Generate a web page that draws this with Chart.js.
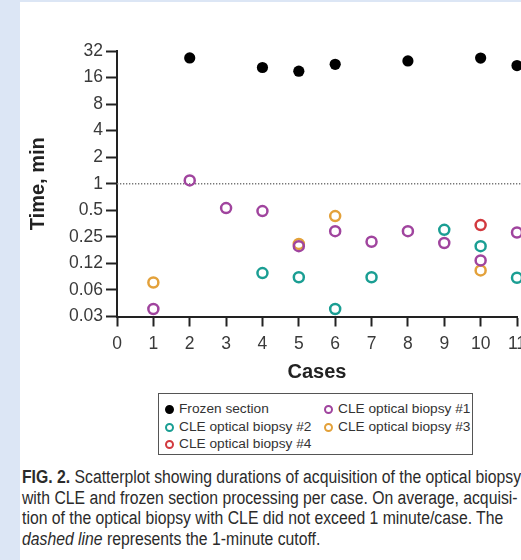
<!DOCTYPE html>
<html lang="en">

<head>
    <meta charset="UTF-8">
    <title>FIG. 2 Scatterplot</title>
    <script src="https://cdn.jsdelivr.net/npm/chart.js"></script>
    <style>
        html, body {
            margin: 0;
            padding: 0;
            width: 521px;
            height: 560px;
            overflow: hidden;
            background: #dce6f5;
        }

        #panel {
            position: absolute;
            left: 20px;
            top: 2px;
            width: 520px;
            height: 570px;
            background: #ffffff;
        }

        #chart-container {
            position: absolute;
            left: 0;
            top: 0;
            width: 540px;
            height: 390px;
        }

        #legend {
            position: absolute;
            left: 158px;
            top: 393px;
            width: 313px;
            height: 60px;
            border: 1.5px solid #555;
            box-sizing: content-box;
            font-family: "Liberation Sans", Arial, sans-serif;
            font-size: 13.7px;
            color: #333;
        }

        #legend .item {
            position: absolute;
            white-space: nowrap;
            line-height: 16px;
        }

        #legend .mark {
            display: inline-block;
            width: 5px;
            height: 5px;
            border-radius: 50%;
            border: 2px solid #000;
            margin-right: 5px;
            vertical-align: -1px;
        }

        #caption {
            position: absolute;
            left: 22px;
            top: 467px;
            white-space: nowrap;
            font-family: "Liberation Sans", Arial, sans-serif;
            font-size: 18px;
            line-height: 20.5px;
            color: #2b2b2b;
            transform: scaleX(0.875);
            transform-origin: left top;
        }
    </style>
</head>

<body>
    <div id="panel"></div>
    <div id="chart-container">
        <canvas id="scatterChart" width="540" height="390"></canvas>
    </div>
    <div id="legend"></div>
    <div id="caption">
        <b>FIG. 2.</b> Scatterplot showing durations of acquisition of the optical biopsy<br>
        with CLE and frozen section processing per case. On average, acquisi-<br>
        tion of the optical biopsy with CLE did not exceed 1 minute/case. The<br>
        <i>dashed line</i> represents the 1-minute cutoff.
    </div>

    <script>
        // Case numbers on the x axis
        const cases = [1, 2, 3, 4, 5, 6, 7, 8, 9, 10, 11];

        // Durations in minutes per case (null = no measurement)
        const frozenSection = [null, 26.7, null, 20.8, 18.9, 22.6, null, 24.7, null, 26.6, 21.9];
        const biopsy1 = [0.038, 1.09, 0.53, 0.49, 0.196, 0.29, 0.22, 0.29, 0.213, 0.135, 0.28];
        const biopsy2 = [null, null, null, 0.097, 0.087, 0.038, 0.087, null, 0.30, 0.196, 0.086];
        const biopsy3 = [0.076, null, null, null, 0.208, 0.43, null, null, null, 0.104, null];
        const biopsy4 = [null, null, null, null, null, null, null, null, null, 0.34, null];

        // 1-minute cutoff
        const cutoff = 1;

        // Axis ticks
        const xTicks = [0, 1, 2, 3, 4, 5, 6, 7, 8, 9, 10, 11];
        const yTicks = [0.03125, 0.0625, 0.125, 0.25, 0.5, 1, 2, 4, 8, 16, 32];
        const yTickLabels = ['0.03', '0.06', '0.12', '0.25', '0.5', '1', '2', '4', '8', '16', '32'];

        function toPoints(values) {
            const pts = [];
            values.forEach((v, i) => {
                if (v !== null) pts.push({ x: cases[i], y: v });
            });
            return pts;
        }

        function openCircle(label, values, color) {
            return {
                label: label,
                data: toPoints(values),
                borderColor: color,
                backgroundColor: 'rgba(255,255,255,0)',
                pointRadius: 5,
                pointBorderWidth: 2.5,
                pointHoverRadius: 5,
                clip: false
            };
        }

        // HTML legend laid out in two columns
        const htmlLegend = {
            id: 'htmlLegend',
            afterUpdate(chart) {
                const box = document.getElementById('legend');
                box.innerHTML = '';
                const items = chart.data.datasets.filter(ds => !ds.hideInLegend);
                items.forEach((ds, i) => {
                    const col = i % 2;
                    const row = Math.floor(i / 2);
                    const el = document.createElement('div');
                    el.className = 'item';
                    el.style.left = (col === 0 ? 6 : 165) + 'px';
                    el.style.top = (7 + row * 17.6) + 'px';
                    const mark = document.createElement('span');
                    mark.className = 'mark';
                    mark.style.borderColor = ds.borderColor;
                    mark.style.background = ds.filled ? ds.borderColor : 'transparent';
                    el.appendChild(mark);
                    el.appendChild(document.createTextNode(ds.label));
                    box.appendChild(el);
                });
            }
        };

        const ctx = document.getElementById('scatterChart').getContext('2d');

        new Chart(ctx, {
            type: 'scatter',
            data: {
                datasets: [
                    {
                        label: 'Frozen section',
                        data: toPoints(frozenSection),
                        borderColor: '#000000',
                        backgroundColor: '#000000',
                        pointRadius: 5.6,
                        pointBorderWidth: 0,
                        pointHoverRadius: 5.6,
                        filled: true,
                        clip: false
                    },
                    openCircle('CLE optical biopsy #1', biopsy1, '#a0449e'),
                    openCircle('CLE optical biopsy #2', biopsy2, '#1a9e93'),
                    openCircle('CLE optical biopsy #3', biopsy3, '#e3a13a'),
                    openCircle('CLE optical biopsy #4', biopsy4, '#d23a3f'),
                    {
                        type: 'line',
                        label: 'cutoff',
                        hideInLegend: true,
                        data: [{ x: 0, y: cutoff }, { x: 11.2, y: cutoff }],
                        borderColor: '#777777',
                        borderWidth: 1.3,
                        borderDash: [1.3, 1.7],
                        pointRadius: 0,
                        fill: false,
                        clip: false
                    }
                ]
            },
            options: {
                responsive: false,
                animation: false,
                devicePixelRatio: 1,
                layout: {
                    padding: { top: 51, right: 23, bottom: 0, left: 0 }
                },
                plugins: {
                    legend: { display: false },
                    tooltip: { enabled: false }
                },
                scales: {
                    x: {
                        type: 'linear',
                        min: 0,
                        max: 11,
                        afterBuildTicks: scale => {
                            scale.ticks = xTicks.map(v => ({ value: v }));
                        },
                        afterFit: scale => {
                            scale.height = 390 - 316.5;
                        },
                        border: { color: '#222', width: 2 },
                        grid: {
                            drawOnChartArea: false,
                            tickLength: 10,
                            tickWidth: 2,
                            tickColor: '#222'
                        },
                        ticks: {
                            padding: 7,
                            color: '#3a3a3a',
                            font: { family: '"Liberation Sans", Arial, sans-serif', size: 17.5 }
                        },
                        title: {
                            display: true,
                            text: 'Cases',
                            color: '#222',
                            padding: { top: 0, bottom: 6 },
                            font: { family: '"Liberation Sans", Arial, sans-serif', size: 20, weight: 'bold' }
                        }
                    },
                    y: {
                        type: 'logarithmic',
                        min: 0.03125,
                        max: 32,
                        afterBuildTicks: scale => {
                            scale.ticks = yTicks.map(v => ({ value: v }));
                        },
                        afterFit: scale => {
                            scale.width = 117;
                        },
                        border: { color: '#222', width: 2 },
                        grid: {
                            drawOnChartArea: false,
                            tickLength: 11,
                            tickWidth: 2,
                            tickColor: '#222'
                        },
                        ticks: {
                            padding: 3,
                            color: '#3a3a3a',
                            font: { family: '"Liberation Sans", Arial, sans-serif', size: 17.5 },
                            callback: (value, index) => yTickLabels[index]
                        },
                        title: {
                            display: true,
                            text: 'Time, min',
                            color: '#222',
                            padding: { top: 26, bottom: 0 },
                            font: { family: '"Liberation Sans", Arial, sans-serif', size: 20, weight: 'bold' }
                        }
                    }
                }
            },
            plugins: [htmlLegend]
        });
    </script>
</body>

</html>
